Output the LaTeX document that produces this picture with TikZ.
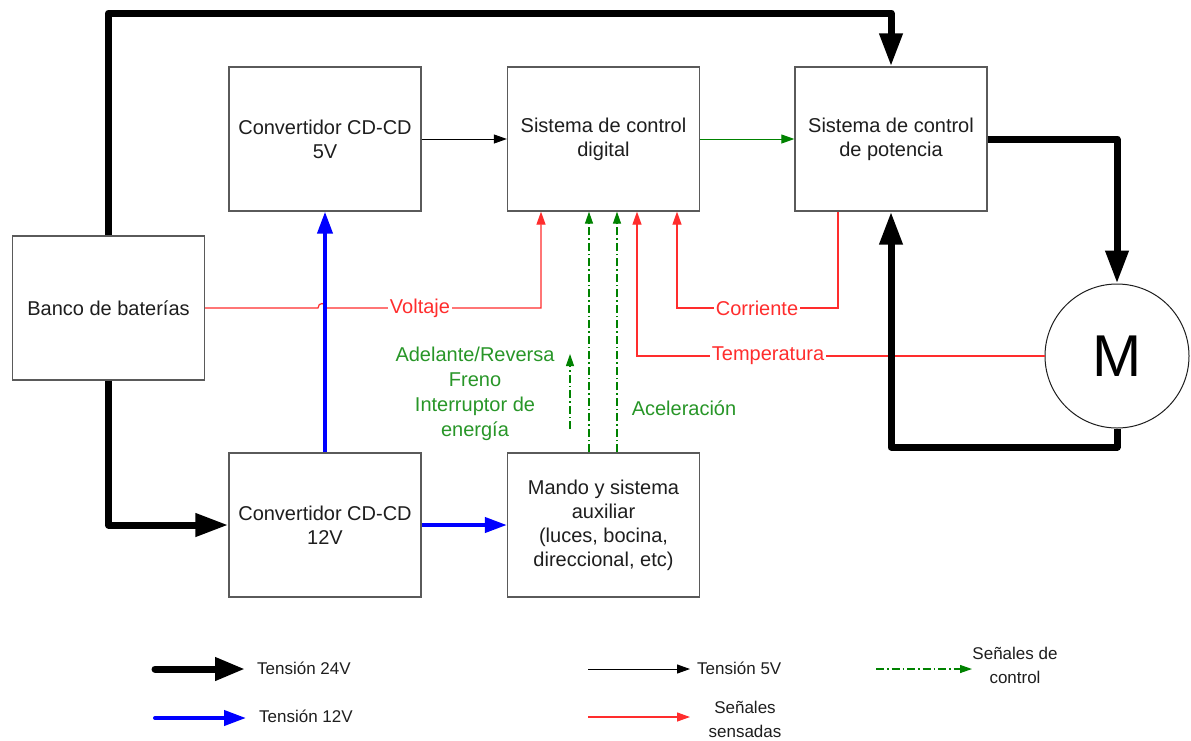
\documentclass[tikz,border=0pt]{standalone}
\usepackage{fontspec}
\setmainfont{Liberation Sans}
\usetikzlibrary{arrows.meta}
\definecolor{txt}{RGB}{30,30,30}
\definecolor{boxc}{RGB}{90,90,90}
\definecolor{rline}{RGB}{255,45,45}
\definecolor{gline}{RGB}{0,130,0}
\definecolor{gtext}{RGB}{40,150,40}
\definecolor{bline}{RGB}{0,0,255}
\begin{document}
\begin{tikzpicture}[x=1pt,y=-1pt,
  every node/.style={text=txt},
  blk/.style={draw=boxc,line width=1.3pt,minimum width=192pt,minimum height=144pt,align=center,font=\fontsize{20}{24}\selectfont,inner sep=0pt},
  p24/.style={line width=7pt,line join=round,-{Triangle[length=33pt,width=22pt]}},
  p12/.style={draw=bline,line width=4pt,-{Triangle[length=22pt,width=15pt]}},
  p5/.style={line width=1pt,-{Triangle[length=13pt,width=9pt]}},
  sens/.style={draw=rline,line width=1.2pt,-{Triangle[length=13pt,width=9pt]}},
  ctrl/.style={draw=gline,line width=1.2pt,dash pattern=on 8pt off 3pt on 1.5pt off 3pt,-{Triangle[length=12pt,width=8pt]}},
  rlab/.style={text=rline,fill=white,inner sep=2pt,font=\fontsize{20}{24}\selectfont},
  glab/.style={text=gtext,align=center,inner sep=0pt,font=\fontsize{20}{25}\selectfont},
  leg/.style={anchor=west,inner sep=0pt,align=center,font=\fontsize{17}{24}\selectfont}]
\useasboundingbox (0,0) rectangle (1191,740);
\fill[white] (0,0) rectangle (1191,740);

% blocks
\node[blk] (bat) at (108.5,308) {Banco de baterías};
\node[blk] (c5) at (325,139) {Convertidor CD-CD\\5V};
\node[blk] (dig) at (603.5,139) {Sistema de control\\digital};
\node[blk] (pot) at (891,139) {Sistema de control\\de potencia};
\node[blk] (c12) at (325,525) {Convertidor CD-CD\\12V};
\node[blk] (mando) at (603.5,525) {Mando y sistema\\auxiliar\\(luces, bocina,\\direccional, etc)};
\node[draw=txt,line width=1pt,circle,minimum size=144pt,inner sep=0pt,font=\fontsize{59}{60}\selectfont,text=black] (mot) at (1117,356) {M};

% sensed signals (red)
\draw[sens] (bat.east) -- (318,308) .. controls (318,302) and (326,302) .. (326,308) -- (541,308) -- (541,0 |- dig.south);
\node[rlab] (volt) at (420,308) {Voltaje};
\draw[sens] (838,0 |- pot.south) -- (838,308) -- (677,308) -- (677,0 |- dig.south);
\node[rlab] (corr) at (757,308) {Corriente};
\draw[sens] (mot.west) -- (637,356) -- (637,0 |- dig.south);
\node[rlab] (temp) at (768,356) {Temperatura};

% control signals (green)
\draw[ctrl] (589,0 |- mando.north) -- (589,0 |- dig.south);
\draw[ctrl] (617,0 |- mando.north) -- (617,0 |- dig.south);
\coordinate (sa) at (570,429);
\coordinate (sb) at (570,354);
\draw[ctrl] (sa) -- (sb);
\node[glab] (adel) at (475,394) {Adelante/Reversa\\Freno\\Interruptor de\\energía};
\node[glab] (acel) at (684,408) {Aceleración};

% 5V and digital links
\draw[p5] (c5.east) -- (dig.west);
\draw[draw=gline,line width=1pt,-{Triangle[length=13pt,width=9pt]}] (dig.east) -- (pot.west);

% 12V (blue)
\draw[p12] (c12.north) -- (c5.south);
\draw[p12] (c12.east) -- (mando.west);

% 24V (thick black)
\draw[p24] (bat.north) |- (891,13) -- (pot.north);
\draw[p24] (pot.east) -| (mot.north);
\draw[p24] (mot.south) |- (891,447) -- (pot.south);
\draw[p24] (bat.south) |- (c12.west);

% legend
\node[leg] (t24) at (257,668) {Tensión 24V};
\coordinate (l24) at (155,669);
\draw[p24,line cap=round,-{Triangle[length=30pt,width=22pt]}] (l24) -- (245,669);
\node[leg] (t12) at (259,716) {Tensión 12V};
\coordinate (l12) at (155,718);
\draw[p12,line cap=round] (l12) -- (246,718);
\node[leg] (t5) at (697,668) {Tensión 5V};
\coordinate (l5) at (588,669);
\draw[p5] (l5) -- (690,669);
\node[leg,anchor=center] (tsen) at (745,719) {Señales\\sensadas};
\coordinate (lsen) at (588,717);
\draw[sens] (lsen) -- (690,717);
\node[leg,anchor=center] (tctrl) at (1015,665) {Señales de\\control};
\coordinate (lctrl) at (876,669);
\draw[ctrl] (lctrl) -- (972,669);
\end{tikzpicture}
\end{document}
